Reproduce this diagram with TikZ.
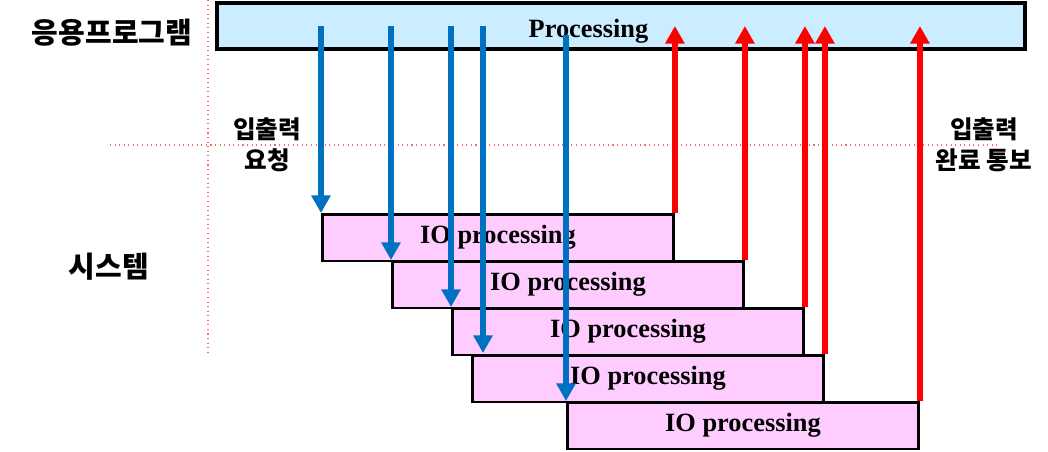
\documentclass[tikz,border=0pt]{standalone}
\usepackage{fontspec}
\setmainfont{Liberation Serif}
\newfontfamily\kr{Noto Sans CJK KR}
\usetikzlibrary{arrows.meta}
\definecolor{appblue}{HTML}{CCECFF}
\definecolor{iopink}{HTML}{FFCCFF}
\definecolor{reqblue}{HTML}{0070C0}
\tikzset{
    app/.style = {
        draw,
        line width=2.2pt,
        fill=appblue,
        minimum width=16.15cm,
        minimum height=0.92cm,
        font=\bfseries\fontsize{15}{17}\selectfont
    },
    iobox/.style = {
        draw,
        line width=1.7pt,
        fill=iopink,
        anchor=north west,
        minimum width=7.02cm,
        minimum height=0.93cm,
        inner sep=0pt,
        font=\bfseries\fontsize{15}{17}\selectfont
    },
    request/.style = {
        reqblue,
        line width=3.3pt,
        -{Triangle[width=10.5pt,length=10pt]}
    },
    done/.style = {
        red,
        line width=3.3pt,
        -{Triangle[width=10.5pt,length=10pt]}
    },
    guide/.style = {
        red!60,
        dotted,
        line width=0.6pt
    },
    tag/.style = {
        font=\kr\bfseries\fontsize{14}{17.5}\selectfont,
        align=center
    },
    side/.style = {
        font=\kr\bfseries\fontsize{16.5}{19}\selectfont
    }
}

\begin{document}
\begin{tikzpicture}[x=0.02cm, y=-0.02cm]
    \useasboundingbox (0,0) rectangle (1048,451);

    % Draw guide lines
    \draw[guide] (208,0) -- (208,355);
    \draw[guide] (110,145) -- (998,145);

    % Draw application box
    \node[app] (proc) at (621,26) {\raisebox{-3pt}[\height][\depth]{Processing}\kern37pt};

    % Draw IO boxes
    \node[iobox] (io1) at (321,213) {IO processing};
    \node[iobox] (io2) at (391,260) {IO processing};
    \node[iobox] (io3) at (451,307) {IO processing};
    \node[iobox] (io4) at (471,354) {IO processing};
    \node[iobox] (io5) at (566,401) {IO processing};

    % Draw requests
    \coordinate (r4) at (483,353);
    \coordinate (s5) at (566,35);
    \draw[request] (io1.north west |- proc.center) -- (io1.north west);
    \draw[request] (io2.north west |- proc.center) -- (io2.north west);
    \draw[request] (io3.north west |- proc.center) -- (io3.north west);
    \draw[request] (r4 |- proc.center) -- (r4);
    \draw[request] (s5) -- (io5.north west);

    % Draw completions
    \draw[done] (io1.north east) -- (io1.north east |- proc.center);
    \draw[done] (io2.north east) -- (io2.north east |- proc.center);
    \draw[done] (io3.north east) -- (io3.north east |- proc.center);
    \draw[done] (io4.north east) -- (io4.north east |- proc.center);
    \draw[done] (io5.north east) -- (io5.north east |- proc.center);

    % Draw labels
    \node[side] (appl) at (112,33) {응용프로그램};
    \node[side] (sysl) at (109,267) {시스템};
    \node[tag] (reql) at (267,145) {입출력\\요청};
    \node[tag] (donel) at (984,145) {입출력\\완료 통보};
\end{tikzpicture}
\end{document}
